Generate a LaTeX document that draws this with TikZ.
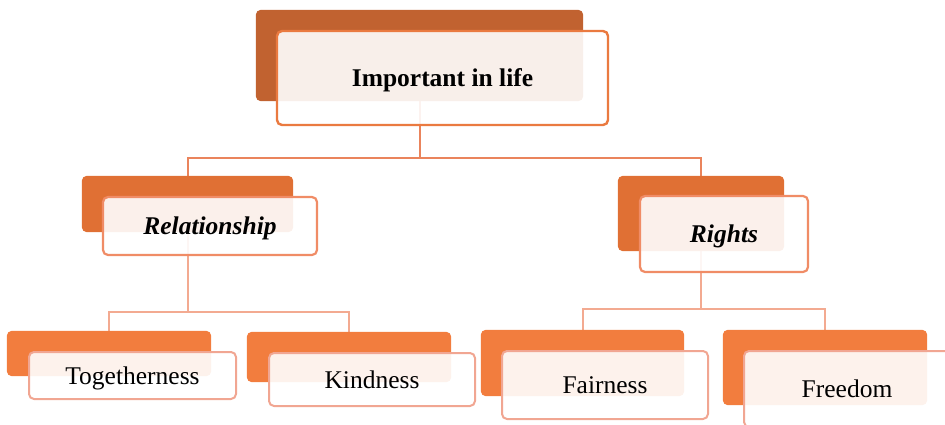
\documentclass[tikz,border=0pt]{standalone}
\usepackage{fontspec}
\setmainfont{Liberation Serif}
\newfontfamily\timesfont{Liberation Serif}
\definecolor{topdark}{RGB}{193,98,48}
\definecolor{middark}{RGB}{224,112,52}
\definecolor{botdark}{RGB}{242,125,62}
\definecolor{topline}{RGB}{234,122,64}
\definecolor{midline}{RGB}{240,140,102}
\definecolor{botline}{RGB}{241,166,146}
\definecolor{conntop}{RGB}{234,132,92}
\definecolor{connlow}{RGB}{243,170,145}
\tikzset{
  frontbox/.style={rounded corners=5pt, fill=white, fill opacity=0.9, text opacity=1, inner sep=0pt, text height=17pt, text depth=0pt, font=\timesfont\fontsize{25.5}{30}\selectfont},
  conn/.style={line width=2pt},
}
\begin{document}
\begin{tikzpicture}[x=1pt, y=-1pt]
\useasboundingbox (0,0) rectangle (945,425);
\clip (0,0) rectangle (945,425);
\path
  (419.5,55.5) node[minimum width=327pt, minimum height=91pt] (topb) {}
  (187.5,204)  node[minimum width=211pt, minimum height=56pt] (relb) {}
  (701,213.5)  node[minimum width=166pt, minimum height=75pt] (rigb) {}
  (109,353.5)  node[minimum width=204pt, minimum height=45pt] (togb) {}
  (349,357)    node[minimum width=204pt, minimum height=50pt] (kinb) {}
  (582.5,363)  node[minimum width=203pt, minimum height=66pt] (faib) {}
  (825,367.5)  node[minimum width=204pt, minimum height=75pt] (freb) {};
% connectors
\draw[conn, conntop] (topb.south) -- (topb.south |- 0,158) -| (relb.north);
\draw[conn, conntop] (topb.south |- 0,158) -| (rigb.north);
\draw[conn, connlow] (relb.south) -- (relb.south |- 0,312) -| (togb.north);
\draw[conn, connlow] (relb.south |- 0,312) -| (kinb.north);
\draw[conn, connlow] (rigb.south) -- (rigb.south |- 0,309) -| (faib.north);
\draw[conn, connlow] (rigb.south |- 0,309) -| (freb.north);
% back fills
\fill[topdark, rounded corners=5pt] (topb.north west) rectangle (topb.south east);
\fill[middark, rounded corners=5pt] (relb.north west) rectangle (relb.south east);
\fill[middark, rounded corners=5pt] (rigb.north west) rectangle (rigb.south east);
\fill[botdark, rounded corners=5pt] (togb.north west) rectangle (togb.south east);
\fill[botdark, rounded corners=5pt] (kinb.north west) rectangle (kinb.south east);
\fill[botdark, rounded corners=5pt] (faib.north west) rectangle (faib.south east);
\fill[botdark, rounded corners=5pt] (freb.north west) rectangle (freb.south east);
% front boxes
\node[frontbox, draw=topline, line width=2.4pt, minimum width=331pt, minimum height=94pt] (topf) at (442.5,78) {\bfseries Important in life};
\node[frontbox, draw=midline, line width=2.2pt, minimum width=214pt, minimum height=58pt] (relf) at (210,226) {\bfseries\itshape Relationship};
\node[frontbox, draw=midline, line width=2.2pt, minimum width=168pt, minimum height=76pt] (rigf) at (724,234) {\bfseries\itshape Rights};
\node[frontbox, draw=botline, line width=2pt, minimum width=207pt, minimum height=47pt] (togf) at (132.5,375.5) {Togetherness};
\node[frontbox, draw=botline, line width=2pt, minimum width=206pt, minimum height=53pt] (kinf) at (372,379.5) {Kindness};
\node[frontbox, draw=botline, line width=2pt, minimum width=206pt, minimum height=68pt] (faif) at (605,385) {Fairness};
\node[frontbox, draw=botline, line width=2pt, minimum width=206pt, minimum height=76pt] (fref) at (847,389) {Freedom};
\end{tikzpicture}
\end{document}
